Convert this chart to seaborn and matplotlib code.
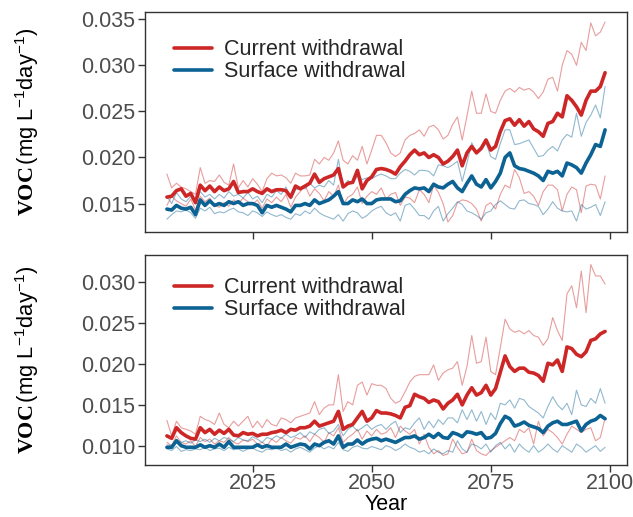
import matplotlib
matplotlib.use("Agg")
import numpy as np
import pandas as pd
import seaborn as sns
import matplotlib.pyplot as plt
from matplotlib.lines import Line2D

years = list(range(2007, 2100))

# ---- upper panel -------------------------------------------------------
top_current_mean = [
    .0157, .0158, .0164, .0166, .0158, .0161, .0151, .0170, .0164, .0169,
    .0163, .0168, .0164, .0166, .0174, .0162, .0163, .0163, .0166, .0163,
    .0161, .0166, .0163, .0165, .0165, .0164, .0157, .0169, .0166, .0169,
    .0172, .0182, .0173, .0177, .0179, .0181, .0188, .0168, .0172, .0173,
    .0186, .0166, .0175, .0179, .0187, .0188, .0187, .0185, .0182, .0190,
    .0196, .0203, .0208, .0203, .0205, .0200, .0203, .0200, .0193, .0196,
    .0201, .0208, .0191, .0205, .0212, .0205, .0210, .0219, .0208, .0212,
    .0228, .0240, .0242, .0235, .0241, .0234, .0239, .0231, .0228, .0223,
    .0237, .0239, .0248, .0244, .0267, .0262, .0255, .0246, .0262, .0272,
    .0272, .0277, .0292]
top_current_upper = [
    .0182, .0167, .0172, .0168, .0166, .0163, .0160, .0189, .0172, .0175,
    .0174, .0181, .0173, .0170, .0193, .0167, .0175, .0168, .0177, .0171,
    .0163, .0177, .0183, .0180, .0181, .0178, .0172, .0183, .0180, .0180,
    .0181, .0198, .0193, .0200, .0197, .0205, .0218, .0197, .0193, .0202,
    .0197, .0212, .0193, .0208, .0224, .0224, .0216, .0205, .0201, .0205,
    .0219, .0224, .0226, .0230, .0223, .0233, .0235, .0230, .0220, .0224,
    .0236, .0244, .0219, .0245, .0272, .0248, .0248, .0269, .0250, .0248,
    .0262, .0272, .0275, .0271, .0276, .0273, .0275, .0271, .0264, .0271,
    .0285, .0287, .0272, .0300, .0316, .0312, .0300, .0325, .0316, .0346,
    .0332, .0336, .0347]
top_current_lower = [
    .0148, .0158, .0153, .0150, .0147, .0155, .0143, .0158, .0152, .0156,
    .0148, .0146, .0151, .0147, .0154, .0150, .0156, .0152, .0149, .0154,
    .0145, .0155, .0151, .0157, .0152, .0160, .0146, .0157, .0163, .0170,
    .0158, .0166, .0161, .0153, .0163, .0158, .0170, .0149, .0157, .0160,
    .0168, .0150, .0158, .0163, .0160, .0167, .0155, .0160, .0162, .0148,
    .0157, .0156, .0151, .0165, .0160, .0151, .0170, .0162, .0150, .0130,
    .0137, .0151, .0154, .0153, .0150, .0144, .0131, .0148, .0151, .0144,
    .0160, .0170, .0167, .0187, .0178, .0161, .0163, .0158, .0148, .0163,
    .0170, .0170, .0165, .0142, .0160, .0168, .0165, .0140, .0169, .0171,
    .0170, .0155, .0180]
top_surface_mean = [
    .0144, .0143, .0148, .0145, .0144, .0146, .0138, .0154, .0148, .0153,
    .0148, .0150, .0148, .0152, .0150, .0152, .0148, .0150, .0150, .0148,
    .0140, .0148, .0146, .0148, .0146, .0144, .0141, .0148, .0148, .0150,
    .0148, .0154, .0150, .0152, .0154, .0158, .0163, .0150, .0150, .0154,
    .0152, .0155, .0150, .0150, .0154, .0155, .0155, .0155, .0152, .0153,
    .0160, .0164, .0167, .0166, .0167, .0163, .0171, .0168, .0167, .0171,
    .0174, .0167, .0163, .0172, .0180, .0171, .0168, .0176, .0167, .0174,
    .0183, .0200, .0205, .0191, .0188, .0187, .0185, .0183, .0180, .0175,
    .0185, .0183, .0185, .0180, .0194, .0192, .0189, .0183, .0194, .0203,
    .0214, .0212, .0230]
top_surface_upper = [
    .0158, .0150, .0162, .0155, .0152, .0158, .0150, .0163, .0157, .0160,
    .0155, .0160, .0156, .0163, .0158, .0160, .0156, .0162, .0155, .0158,
    .0151, .0160, .0157, .0164, .0160, .0168, .0155, .0165, .0167, .0166,
    .0172, .0167, .0170, .0168, .0175, .0170, .0198, .0168, .0175, .0172,
    .0180, .0176, .0178, .0177, .0180, .0182, .0180, .0177, .0177, .0183,
    .0187, .0185, .0181, .0186, .0186, .0185, .0180, .0192, .0191, .0189,
    .0192, .0196, .0174, .0194, .0216, .0205, .0208, .0216, .0201, .0198,
    .0215, .0230, .0230, .0214, .0215, .0217, .0219, .0210, .0201, .0202,
    .0208, .0212, .0207, .0219, .0225, .0222, .0248, .0223, .0238, .0246,
    .0257, .0243, .0277]
top_surface_lower = [
    .0133, .0138, .0142, .0141, .0143, .0140, .0134, .0145, .0142, .0146,
    .0139, .0141, .0140, .0143, .0145, .0141, .0140, .0137, .0142, .0140,
    .0136, .0141, .0138, .0136, .0138, .0135, .0133, .0139, .0137, .0142,
    .0139, .0145, .0140, .0137, .0135, .0133, .0138, .0131, .0139, .0142,
    .0140, .0134, .0137, .0142, .0145, .0147, .0140, .0137, .0140, .0131,
    .0148, .0150, .0144, .0137, .0137, .0133, .0142, .0147, .0131, .0139,
    .0145, .0152, .0149, .0142, .0140, .0137, .0133, .0140, .0142, .0149,
    .0153, .0149, .0145, .0144, .0153, .0154, .0150, .0149, .0147, .0138,
    .0144, .0152, .0145, .0142, .0141, .0142, .0131, .0149, .0144, .0146,
    .0149, .0137, .0152]

# ---- lower panel -------------------------------------------------------
bot_current_mean = [
    .0112, .0109, .0122, .0116, .0112, .0109, .0108, .0122, .0116, .0120,
    .0114, .0119, .0115, .0120, .0113, .0112, .0116, .0114, .0115, .0112,
    .0114, .0114, .0116, .0117, .0119, .0116, .0120, .0119, .0122, .0122,
    .0124, .0130, .0124, .0126, .0128, .0130, .0142, .0120, .0124, .0126,
    .0134, .0142, .0130, .0134, .0143, .0140, .0140, .0139, .0137, .0134,
    .0147, .0149, .0163, .0160, .0158, .0153, .0156, .0154, .0145, .0152,
    .0156, .0163, .0150, .0162, .0171, .0162, .0165, .0174, .0162, .0170,
    .0190, .0210, .0197, .0191, .0195, .0195, .0190, .0189, .0186, .0179,
    .0201, .0199, .0205, .0191, .0221, .0219, .0212, .0209, .0215, .0229,
    .0231, .0237, .0240]
bot_current_upper = [
    .0131, .0112, .0130, .0122, .0120, .0118, .0114, .0136, .0132, .0130,
    .0126, .0140, .0126, .0122, .0130, .0124, .0130, .0136, .0122, .0130,
    .0122, .0132, .0126, .0124, .0134, .0132, .0128, .0134, .0136, .0138,
    .0140, .0154, .0138, .0146, .0150, .0150, .0187, .0142, .0154, .0150,
    .0174, .0178, .0162, .0176, .0174, .0174, .0170, .0158, .0152, .0155,
    .0166, .0178, .0185, .0187, .0187, .0187, .0199, .0180, .0189, .0193,
    .0195, .0203, .0174, .0197, .0235, .0201, .0203, .0233, .0191, .0187,
    .0220, .0255, .0243, .0239, .0241, .0237, .0241, .0235, .0233, .0223,
    .0231, .0257, .0241, .0229, .0286, .0296, .0269, .0314, .0263, .0322,
    .0308, .0308, .0298]
bot_current_lower = [
    .0104, .0100, .0112, .0104, .0102, .0106, .0099, .0110, .0105, .0108,
    .0102, .0106, .0104, .0110, .0104, .0102, .0107, .0105, .0108, .0102,
    .0104, .0100, .0108, .0104, .0110, .0106, .0103, .0110, .0108, .0112,
    .0105, .0114, .0110, .0104, .0116, .0112, .0122, .0104, .0110, .0114,
    .0120, .0108, .0118, .0112, .0120, .0114, .0116, .0122, .0110, .0124,
    .0118, .0114, .0120, .0102, .0114, .0098, .0090, .0094, .0088, .0090,
    .0108, .0098, .0090, .0092, .0108, .0094, .0090, .0088, .0094, .0098,
    .0102, .0106, .0110, .0106, .0120, .0116, .0122, .0102, .0130, .0112,
    .0120, .0116, .0110, .0102, .0114, .0124, .0120, .0116, .0120, .0122,
    .0106, .0110, .0134]
bot_surface_mean = [
    .0098, .0098, .0106, .0100, .0098, .0098, .0098, .0101, .0098, .0100,
    .0098, .0102, .0098, .0105, .0098, .0098, .0098, .0098, .0098, .0101,
    .0098, .0100, .0098, .0098, .0098, .0102, .0098, .0100, .0102, .0101,
    .0096, .0102, .0100, .0104, .0106, .0102, .0112, .0098, .0102, .0102,
    .0107, .0102, .0106, .0108, .0109, .0106, .0108, .0106, .0104, .0107,
    .0110, .0110, .0112, .0108, .0110, .0114, .0110, .0115, .0110, .0109,
    .0116, .0114, .0111, .0117, .0116, .0114, .0116, .0109, .0110, .0115,
    .0127, .0136, .0133, .0124, .0126, .0129, .0125, .0123, .0121, .0116,
    .0124, .0128, .0130, .0126, .0126, .0128, .0130, .0118, .0126, .0130,
    .0132, .0137, .0133]
bot_surface_upper = [
    .0101, .0100, .0108, .0104, .0106, .0103, .0107, .0105, .0108, .0104,
    .0109, .0106, .0110, .0108, .0105, .0110, .0107, .0106, .0111, .0108,
    .0104, .0110, .0108, .0112, .0109, .0114, .0110, .0112, .0116, .0110,
    .0117, .0114, .0120, .0122, .0115, .0118, .0126, .0112, .0120, .0124,
    .0118, .0122, .0126, .0120, .0124, .0126, .0120, .0126, .0130, .0116,
    .0122, .0120, .0128, .0134, .0120, .0130, .0122, .0132, .0126, .0134,
    .0134, .0128, .0144, .0132, .0144, .0130, .0142, .0126, .0140, .0132,
    .0152, .0150, .0156, .0146, .0158, .0156, .0148, .0144, .0140, .0134,
    .0148, .0160, .0150, .0144, .0152, .0138, .0168, .0150, .0148, .0158,
    .0152, .0170, .0152]
bot_surface_lower = [
    .0096, .0094, .0099, .0093, .0095, .0094, .0096, .0095, .0098, .0094,
    .0096, .0097, .0094, .0098, .0095, .0096, .0093, .0096, .0097, .0094,
    .0092, .0096, .0095, .0097, .0094, .0096, .0092, .0096, .0098, .0095,
    .0092, .0097, .0100, .0096, .0099, .0096, .0104, .0095, .0093, .0098,
    .0100, .0097, .0096, .0099, .0097, .0095, .0100, .0098, .0094, .0097,
    .0102, .0098, .0096, .0092, .0094, .0090, .0096, .0092, .0090, .0094,
    .0092, .0106, .0096, .0092, .0102, .0100, .0096, .0102, .0092, .0100,
    .0104, .0096, .0102, .0092, .0102, .0096, .0092, .0100, .0092, .0096,
    .0102, .0096, .0092, .0100, .0096, .0092, .0102, .0098, .0092, .0096,
    .0100, .0093, .0098]

series_labels = ["Current withdrawal", "Surface withdrawal"]
x_ticks = [2025, 2050, 2075, 2100]
top_y_ticks = [0.015, 0.020, 0.025, 0.030, 0.035]
bot_y_ticks = [0.010, 0.015, 0.020, 0.025, 0.030]

RED = "#CD2626"
BLUE = "#0B6293"
FS = 15.5

sns.set_theme(style="white")
plt.rcParams["font.family"] = ["Liberation Sans", "DejaVu Sans"]
plt.rcParams["mathtext.fontset"] = "custom"
plt.rcParams["mathtext.rm"] = "Liberation Sans"
plt.rcParams["mathtext.it"] = "Liberation Sans:italic"
plt.rcParams["mathtext.bf"] = "Liberation Serif:bold"

fig = plt.figure(figsize=(6.33, 5.17), dpi=100)
ax_top = fig.add_axes([145 / 633, 1 - 232 / 517, 482 / 633, 220 / 517])
ax_bot = fig.add_axes([145 / 633, 1 - 465 / 517, 482 / 633, 210 / 517])

ylabel = r"$\mathbf{VOC}\,\mathrm{(mg\ L^{-1}day^{-1})}$"


def draw_panel(ax, cur_mean, cur_up, cur_lo, sur_mean, sur_up, sur_lo,
               yticks, show_x, legend_y):
    df = pd.DataFrame({
        "year": years,
        "cur_mean": cur_mean, "cur_up": cur_up, "cur_lo": cur_lo,
        "sur_mean": sur_mean, "sur_up": sur_up, "sur_lo": sur_lo,
    })
    for col, colr in [("cur_up", RED), ("cur_lo", RED), ("sur_up", BLUE), ("sur_lo", BLUE)]:
        sns.lineplot(data=df, x="year", y=col, ax=ax, color=colr, lw=0.8,
                     alpha=0.45, legend=False)
    sns.lineplot(data=df, x="year", y="cur_mean", ax=ax, color=RED, lw=2.6, legend=False)
    sns.lineplot(data=df, x="year", y="sur_mean", ax=ax, color=BLUE, lw=2.6, legend=False)

    vals = np.concatenate([df[c].values for c in df.columns if c != "year"])
    lo, hi = vals.min(), vals.max()
    pad = 0.05 * (hi - lo)
    ax.set_ylim(lo - pad, hi + pad)
    span = years[-1] - years[0]
    ax.set_xlim(years[0] - 0.05 * span, years[-1] + 0.05 * span)

    ax.set_xticks(x_ticks)
    ax.set_yticks(yticks)
    ax.set_yticklabels([f"{t:.3f}" for t in yticks])
    ax.tick_params(axis="both", which="both", direction="out", length=5, width=1,
                   color="#333333", labelsize=FS, labelcolor="#4D4D4D", pad=2,
                   bottom=True, left=True)
    ax.tick_params(axis="x", pad=1)
    if not show_x:
        ax.set_xticklabels([])
        ax.set_xlabel("")
    else:
        ax.set_xlabel("Year", fontsize=FS, color="black", labelpad=0)
    ax.set_ylabel(ylabel, fontsize=15.8, color="black")
    ax.yaxis.set_label_coords((41 - 145) / 482, 0.5)
    for s in ax.spines.values():
        s.set_visible(True)
        s.set_color("#333333")
        s.set_linewidth(1.0)

    handles = [Line2D([], [], color=RED, lw=2.6), Line2D([], [], color=BLUE, lw=2.6)]
    ax.legend(handles, series_labels, loc="upper left", bbox_to_anchor=(0.028, legend_y),
              frameon=False, fontsize=FS, handlelength=1.8, handletextpad=0.55,
              labelspacing=0.05, borderaxespad=0.3)


draw_panel(ax_top, top_current_mean, top_current_upper, top_current_lower,
           top_surface_mean, top_surface_upper, top_surface_lower,
           top_y_ticks, False, 0.945)
draw_panel(ax_bot, bot_current_mean, bot_current_upper, bot_current_lower,
           bot_surface_mean, bot_surface_upper, bot_surface_lower,
           bot_y_ticks, True, 0.965)

fig.savefig("out.png", dpi=100, facecolor="white")
